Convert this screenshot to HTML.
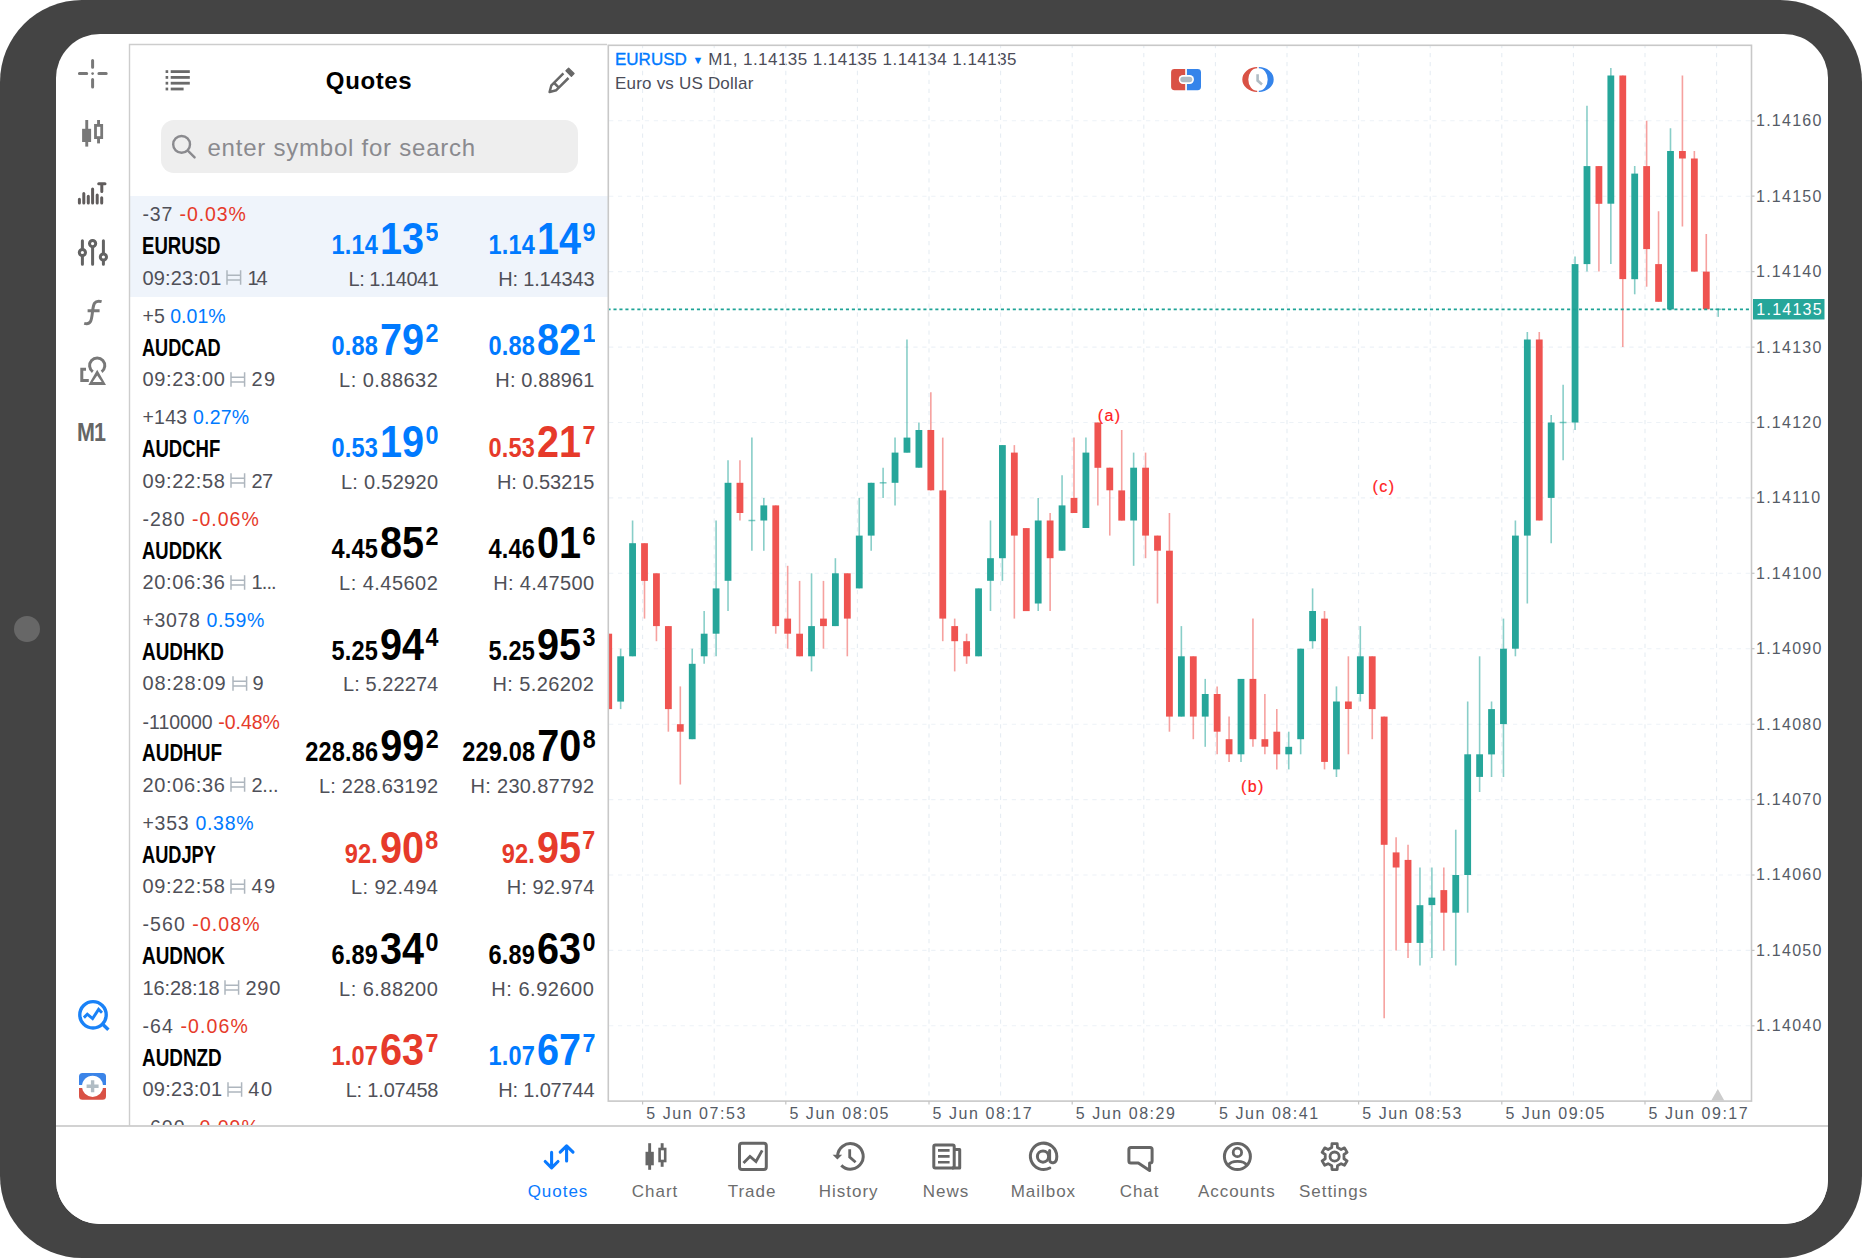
<!DOCTYPE html>
<html lang="en"><head><meta charset="utf-8"><title>Quotes</title>
<style>
html,body{margin:0;padding:0;background:#fff;}
body{width:1862px;height:1258px;position:relative;overflow:hidden;font-family:"Liberation Sans",sans-serif;}
.frame{position:absolute;left:0;top:0;width:1862px;height:1258px;background:#444;border-radius:82px;}
.cam{position:absolute;left:14px;top:616px;width:26px;height:26px;border-radius:50%;background:#676767;}
.screen{position:absolute;left:56px;top:34px;width:1772px;height:1190px;background:#fff;border-radius:44px;overflow:hidden;}
.abs{position:absolute;}
svg.ov{position:absolute;left:-56px;top:-34px;width:1862px;height:1258px;pointer-events:none;}
.ax{font:16px "Liberation Sans",sans-serif;fill:#555b66;letter-spacing:1.25px;}
.tx{font:16px "Liberation Sans",sans-serif;fill:#555b66;letter-spacing:1.55px;}
.wv{font:16px "Liberation Sans",sans-serif;fill:#ff1c1c;letter-spacing:1.4px;stroke:#ff1c1c;stroke-width:0.2px;}
.panel{position:absolute;left:74px;top:11px;width:478px;height:1080px;overflow:hidden;}
.title{position:absolute;left:0;width:478px;top:21px;text-align:center;font-weight:bold;font-size:24px;line-height:30px;color:#000;letter-spacing:0.6px;}
.search{position:absolute;left:30.5px;top:75.4px;width:417px;height:53px;border-radius:13px;background:#eeeeee;}
.search span{position:absolute;left:47px;top:12.2px;font-size:24px;line-height:30px;color:#8a8a8e;letter-spacing:0.77px;white-space:nowrap;}
.row{position:absolute;left:0;width:478px;height:101.4px;}
.row.sel{background:#eff4fb;}
.l1{position:absolute;left:12.5px;top:7.8px;font-size:19.5px;line-height:22px;color:#4f5058;white-space:nowrap;letter-spacing:1.0px;}
.cr{color:#e63a2a;} .cb{color:#007aff;} .ck{color:#000;}
.sym{position:absolute;left:11.5px;top:35.5px;font-size:23.5px;line-height:30px;font-weight:bold;color:#000;transform:scaleX(0.785);transform-origin:0 50%;white-space:nowrap;}
.l3{position:absolute;left:12.5px;top:70px;font-size:20px;line-height:24px;color:#4f5058;white-space:nowrap;letter-spacing:0.45px;}
.spi{display:inline-block;vertical-align:-0.5px;margin:0 5px 0 5px;}
.pr{position:absolute;top:18.4px;height:50px;white-space:nowrap;font-weight:bold;transform:scaleX(0.88);transform-origin:100% 50%;display:flex;align-items:baseline;}
.pr.bid{right:170px;} .pr.ask{right:13px;}
.ps{font-size:26.8px;line-height:50px;letter-spacing:0.2px;}
.pb{font-size:45px;line-height:50px;margin-left:2.2px;}
.pp{font-size:26.5px;line-height:20px;align-self:flex-start;margin-top:7.6px;margin-left:1.5px;letter-spacing:-0.5px;}
.lo,.hi{position:absolute;top:71.1px;font-size:20px;line-height:24px;color:#4f5058;white-space:nowrap;letter-spacing:0px;}
.lo{right:169.7px;} .hi{right:13.6px;}
.hdr{position:absolute;left:559px;top:15px;font-size:17px;line-height:22.5px;color:#4b4c58;white-space:nowrap;}
.hdr .s{color:#007aff;-webkit-text-stroke:0.35px #007aff;}
.tabbar{position:absolute;left:0;top:1091px;width:1772px;height:99px;border-top:2px solid #d2d2d2;background:#fff;}
.tab{position:absolute;top:54.5px;width:120px;text-align:center;font-size:17px;line-height:20px;color:#6d6d6d;letter-spacing:0.98px;}
.tab.on{color:#0a7aff;}
.m1{position:absolute;left:20.5px;top:383.2px;font-size:25px;line-height:30px;font-weight:bold;color:#666;letter-spacing:-1.2px;transform:scaleX(0.86);transform-origin:0 50%;}
</style></head>
<body>
<div class="frame"></div><div class="cam"></div>
<div class="screen">
<div class="panel">
<div class="title">Quotes</div>
<div class="search"><span>enter symbol for search</span></div>
<div class="row sel" style="top:150.7px">
<div class="l1" id="r0l1" style="letter-spacing:0.87px"><span class="chg">-37</span> <span class="cr">-0.03%</span></div>
<div class="sym" id="r0sym" style="transform:scaleX(0.7911)">EURUSD</div>
<div class="l3"><span class="tm" id="r0tm" style="letter-spacing:0.13px">09:23:01</span><svg class="spi" width="16" height="15" viewBox="0 0 16 15"><path d="M1 0.3V14.7M14.6 0.3V14.7M1 5.2H14.6M1 9.9H14.6" stroke="#aeb6be" stroke-width="1.5" fill="none"/></svg><span class="spr" id="r0spr" style="letter-spacing:-1.92px">14</span></div>
<div class="pr bid cb"><span class="ps">1.14</span><span class="pb">13</span><span class="pp">5</span></div><div class="pr ask cb"><span class="ps">1.14</span><span class="pb">14</span><span class="pp">9</span></div>
<div class="lo" id="r0lo" style="letter-spacing:-0.48px">L: 1.14041</div><div class="hi" id="r0hi" style="letter-spacing:-0.16px">H: 1.14343</div>
</div>
<div class="row" style="top:252.1px">
<div class="l1" id="r1l1" style="letter-spacing:0.03px"><span class="chg">+5</span> <span class="cb">0.01%</span></div>
<div class="sym" id="r1sym" style="transform:scaleX(0.7732)">AUDCAD</div>
<div class="l3"><span class="tm" id="r1tm" style="letter-spacing:0.63px">09:23:00</span><svg class="spi" width="16" height="15" viewBox="0 0 16 15"><path d="M1 0.3V14.7M14.6 0.3V14.7M1 5.2H14.6M1 9.9H14.6" stroke="#aeb6be" stroke-width="1.5" fill="none"/></svg><span class="spr" id="r1spr" style="letter-spacing:1.44px">29</span></div>
<div class="pr bid cb"><span class="ps">0.88</span><span class="pb">79</span><span class="pp">2</span></div><div class="pr ask cb"><span class="ps">0.88</span><span class="pb">82</span><span class="pp">1</span></div>
<div class="lo" id="r1lo" style="letter-spacing:0.47px">L: 0.88632</div><div class="hi" id="r1hi" style="letter-spacing:0.12px">H: 0.88961</div>
</div>
<div class="row" style="top:353.6px">
<div class="l1" id="r2l1" style="letter-spacing:0.23px"><span class="chg">+143</span> <span class="cb">0.27%</span></div>
<div class="sym" id="r2sym" style="transform:scaleX(0.7893)">AUDCHF</div>
<div class="l3"><span class="tm" id="r2tm" style="letter-spacing:0.63px">09:22:58</span><svg class="spi" width="16" height="15" viewBox="0 0 16 15"><path d="M1 0.3V14.7M14.6 0.3V14.7M1 5.2H14.6M1 9.9H14.6" stroke="#aeb6be" stroke-width="1.5" fill="none"/></svg><span class="spr" id="r2spr" style="letter-spacing:-0.48px">27</span></div>
<div class="pr bid cb"><span class="ps">0.53</span><span class="pb">19</span><span class="pp">0</span></div><div class="pr ask cr"><span class="ps">0.53</span><span class="pb">21</span><span class="pp">7</span></div>
<div class="lo" id="r2lo" style="letter-spacing:0.29px">L: 0.52920</div><div class="hi" id="r2hi" style="letter-spacing:-0.04px">H: 0.53215</div>
</div>
<div class="row" style="top:455.0px">
<div class="l1" id="r3l1" style="letter-spacing:1.00px"><span class="chg">-280</span> <span class="cr">-0.06%</span></div>
<div class="sym" id="r3sym" style="transform:scaleX(0.7869)">AUDDKK</div>
<div class="l3"><span class="tm" id="r3tm" style="letter-spacing:0.63px">20:06:36</span><svg class="spi" width="16" height="15" viewBox="0 0 16 15"><path d="M1 0.3V14.7M14.6 0.3V14.7M1 5.2H14.6M1 9.9H14.6" stroke="#aeb6be" stroke-width="1.5" fill="none"/></svg><span class="spr" id="r3spr" style="letter-spacing:-0.85px">1...</span></div>
<div class="pr bid ck"><span class="ps">4.45</span><span class="pb">85</span><span class="pp">2</span></div><div class="pr ask ck"><span class="ps">4.46</span><span class="pb">01</span><span class="pp">6</span></div>
<div class="lo" id="r3lo" style="letter-spacing:0.47px">L: 4.45602</div><div class="hi" id="r3hi" style="letter-spacing:0.34px">H: 4.47500</div>
</div>
<div class="row" style="top:556.4px">
<div class="l1" id="r4l1" style="letter-spacing:0.63px"><span class="chg">+3078</span> <span class="cb">0.59%</span></div>
<div class="sym" id="r4sym" style="transform:scaleX(0.8053)">AUDHKD</div>
<div class="l3"><span class="tm" id="r4tm" style="letter-spacing:0.77px">08:28:09</span><svg class="spi" width="16" height="15" viewBox="0 0 16 15"><path d="M1 0.3V14.7M14.6 0.3V14.7M1 5.2H14.6M1 9.9H14.6" stroke="#aeb6be" stroke-width="1.5" fill="none"/></svg><span class="spr" id="r4spr" style="letter-spacing:-0.40px">9</span></div>
<div class="pr bid ck"><span class="ps">5.25</span><span class="pb">94</span><span class="pp">4</span></div><div class="pr ask ck"><span class="ps">5.25</span><span class="pb">95</span><span class="pp">3</span></div>
<div class="lo" id="r4lo" style="letter-spacing:0.07px">L: 5.22274</div><div class="hi" id="r4hi" style="letter-spacing:0.41px">H: 5.26202</div>
</div>
<div class="row" style="top:657.9px">
<div class="l1" id="r5l1" style="letter-spacing:0.01px"><span class="chg">-110000</span> <span class="cr">-0.48%</span></div>
<div class="sym" id="r5sym" style="transform:scaleX(0.8076)">AUDHUF</div>
<div class="l3"><span class="tm" id="r5tm" style="letter-spacing:0.63px">20:06:36</span><svg class="spi" width="16" height="15" viewBox="0 0 16 15"><path d="M1 0.3V14.7M14.6 0.3V14.7M1 5.2H14.6M1 9.9H14.6" stroke="#aeb6be" stroke-width="1.5" fill="none"/></svg><span class="spr" id="r5spr" style="letter-spacing:-0.21px">2...</span></div>
<div class="pr bid ck"><span class="ps">228.86</span><span class="pb">99</span><span class="pp">2</span></div><div class="pr ask ck"><span class="ps">229.08</span><span class="pb">70</span><span class="pp">8</span></div>
<div class="lo" id="r5lo" style="letter-spacing:0.21px">L: 228.63192</div><div class="hi" id="r5hi" style="letter-spacing:0.32px">H: 230.87792</div>
</div>
<div class="row" style="top:759.3px">
<div class="l1" id="r6l1" style="letter-spacing:0.71px"><span class="chg">+353</span> <span class="cb">0.38%</span></div>
<div class="sym" id="r6sym" style="transform:scaleX(0.7749)">AUDJPY</div>
<div class="l3"><span class="tm" id="r6tm" style="letter-spacing:0.63px">09:22:58</span><svg class="spi" width="16" height="15" viewBox="0 0 16 15"><path d="M1 0.3V14.7M14.6 0.3V14.7M1 5.2H14.6M1 9.9H14.6" stroke="#aeb6be" stroke-width="1.5" fill="none"/></svg><span class="spr" id="r6spr" style="letter-spacing:1.44px">49</span></div>
<div class="pr bid cr"><span class="ps">92.</span><span class="pb">90</span><span class="pp">8</span></div><div class="pr ask cr"><span class="ps">92.</span><span class="pb">95</span><span class="pp">7</span></div>
<div class="lo" id="r6lo" style="letter-spacing:0.44px">L: 92.494</div><div class="hi" id="r6hi" style="letter-spacing:0.10px">H: 92.974</div>
</div>
<div class="row" style="top:860.7px">
<div class="l1" id="r7l1" style="letter-spacing:1.08px"><span class="chg">-560</span> <span class="cr">-0.08%</span></div>
<div class="sym" id="r7sym" style="transform:scaleX(0.8044)">AUDNOK</div>
<div class="l3"><span class="tm" id="r7tm" style="letter-spacing:-0.12px">16:28:18</span><svg class="spi" width="16" height="15" viewBox="0 0 16 15"><path d="M1 0.3V14.7M14.6 0.3V14.7M1 5.2H14.6M1 9.9H14.6" stroke="#aeb6be" stroke-width="1.5" fill="none"/></svg><span class="spr" id="r7spr" style="letter-spacing:0.80px">290</span></div>
<div class="pr bid ck"><span class="ps">6.89</span><span class="pb">34</span><span class="pp">0</span></div><div class="pr ask ck"><span class="ps">6.89</span><span class="pb">63</span><span class="pp">0</span></div>
<div class="lo" id="r7lo" style="letter-spacing:0.47px">L: 6.88200</div><div class="hi" id="r7hi" style="letter-spacing:0.53px">H: 6.92600</div>
</div>
<div class="row" style="top:962.1px">
<div class="l1" id="r8l1" style="letter-spacing:1.10px"><span class="chg">-64</span> <span class="cr">-0.06%</span></div>
<div class="sym" id="r8sym" style="transform:scaleX(0.8033)">AUDNZD</div>
<div class="l3"><span class="tm" id="r8tm" style="letter-spacing:0.25px">09:23:01</span><svg class="spi" width="16" height="15" viewBox="0 0 16 15"><path d="M1 0.3V14.7M14.6 0.3V14.7M1 5.2H14.6M1 9.9H14.6" stroke="#aeb6be" stroke-width="1.5" fill="none"/></svg><span class="spr" id="r8spr" style="letter-spacing:1.44px">40</span></div>
<div class="pr bid cr"><span class="ps">1.07</span><span class="pb">63</span><span class="pp">7</span></div><div class="pr ask cb"><span class="ps">1.07</span><span class="pb">67</span><span class="pp">7</span></div>
<div class="lo" id="r8lo" style="letter-spacing:-0.19px">L: 1.07458</div><div class="hi" id="r8hi" style="letter-spacing:-0.18px">H: 1.07744</div>
</div>
<div class="row" style="top:1063.6px">
<div class="l1" id="r9l1" style="letter-spacing:1.00px"><span class="chg">-600</span> <span class="cr">-0.09%</span></div>
<div class="sym" id="r9sym" style="transform:scaleX(0.7850)">AUDSGD</div>
<div class="l3"><span class="tm" id="r9tm" style="letter-spacing:0.45px">09:23:01</span><svg class="spi" width="16" height="15" viewBox="0 0 16 15"><path d="M1 0.3V14.7M14.6 0.3V14.7M1 5.2H14.6M1 9.9H14.6" stroke="#aeb6be" stroke-width="1.5" fill="none"/></svg><span class="spr" id="r9spr" style="letter-spacing:-0.40px">35</span></div>
<div class="pr bid cb"><span class="ps">0.83</span><span class="pb">41</span><span class="pp">2</span></div><div class="pr ask cb"><span class="ps">0.83</span><span class="pb">44</span><span class="pp">7</span></div>
<div class="lo" id="r9lo" style="letter-spacing:-0.30px">L: 0.83401</div><div class="hi" id="r9hi" style="letter-spacing:0.00px">H: 0.83672</div>
</div>
</div>
<div class="m1">M1</div>
<div class="hdr"><span class="s">EURUSD</span> <span style="color:#007aff;font-size:11px;position:relative;top:-1px;margin:0 0px 0 1px">&#9660;</span> <span style="letter-spacing:0.45px">M1, 1.14135 1.14135 1.14134 1.14135</span><br><span style="letter-spacing:0.2px">Euro vs US Dollar</span></div>
<div class="tabbar"><div class="tab on" style="left:442.0px">Quotes</div>
<div class="tab" style="left:539.0px">Chart</div>
<div class="tab" style="left:636.0px">Trade</div>
<div class="tab" style="left:732.7px">History</div>
<div class="tab" style="left:830.0px">News</div>
<div class="tab" style="left:927.4px">Mailbox</div>
<div class="tab" style="left:1023.6px">Chat</div>
<div class="tab" style="left:1120.8px">Accounts</div>
<div class="tab" style="left:1217.6px">Settings</div></div>
<svg class="ov" viewBox="0 0 1862 1258">
<defs><clipPath id="cc"><rect x="609" y="46" width="1142" height="1054.5"/></clipPath></defs>
<g clip-path="url(#cc)">
<line x1="609" x2="1751" y1="120.8" y2="120.8" stroke="#edf2f7" stroke-width="1.1" stroke-dasharray="4.3 4.65"/>
<line x1="609" x2="1751" y1="196.2" y2="196.2" stroke="#edf2f7" stroke-width="1.1" stroke-dasharray="4.3 4.65"/>
<line x1="609" x2="1751" y1="271.6" y2="271.6" stroke="#edf2f7" stroke-width="1.1" stroke-dasharray="4.3 4.65"/>
<line x1="609" x2="1751" y1="347.1" y2="347.1" stroke="#edf2f7" stroke-width="1.1" stroke-dasharray="4.3 4.65"/>
<line x1="609" x2="1751" y1="422.5" y2="422.5" stroke="#edf2f7" stroke-width="1.1" stroke-dasharray="4.3 4.65"/>
<line x1="609" x2="1751" y1="497.9" y2="497.9" stroke="#edf2f7" stroke-width="1.1" stroke-dasharray="4.3 4.65"/>
<line x1="609" x2="1751" y1="573.3" y2="573.3" stroke="#edf2f7" stroke-width="1.1" stroke-dasharray="4.3 4.65"/>
<line x1="609" x2="1751" y1="648.7" y2="648.7" stroke="#edf2f7" stroke-width="1.1" stroke-dasharray="4.3 4.65"/>
<line x1="609" x2="1751" y1="724.2" y2="724.2" stroke="#edf2f7" stroke-width="1.1" stroke-dasharray="4.3 4.65"/>
<line x1="609" x2="1751" y1="799.6" y2="799.6" stroke="#edf2f7" stroke-width="1.1" stroke-dasharray="4.3 4.65"/>
<line x1="609" x2="1751" y1="875.0" y2="875.0" stroke="#edf2f7" stroke-width="1.1" stroke-dasharray="4.3 4.65"/>
<line x1="609" x2="1751" y1="950.4" y2="950.4" stroke="#edf2f7" stroke-width="1.1" stroke-dasharray="4.3 4.65"/>
<line x1="609" x2="1751" y1="1025.8" y2="1025.8" stroke="#edf2f7" stroke-width="1.1" stroke-dasharray="4.3 4.65"/>
<line x1="642.6" x2="642.6" y1="46" y2="1100" stroke="#e6edf3" stroke-width="1.1" stroke-dasharray="4.3 4.65" stroke-dashoffset="2"/>
<line x1="714.2" x2="714.2" y1="46" y2="1100" stroke="#e6edf3" stroke-width="1.1" stroke-dasharray="4.3 4.65" stroke-dashoffset="2"/>
<line x1="785.8" x2="785.8" y1="46" y2="1100" stroke="#e6edf3" stroke-width="1.1" stroke-dasharray="4.3 4.65" stroke-dashoffset="2"/>
<line x1="857.4" x2="857.4" y1="46" y2="1100" stroke="#e6edf3" stroke-width="1.1" stroke-dasharray="4.3 4.65" stroke-dashoffset="2"/>
<line x1="929.0" x2="929.0" y1="46" y2="1100" stroke="#e6edf3" stroke-width="1.1" stroke-dasharray="4.3 4.65" stroke-dashoffset="2"/>
<line x1="1000.6" x2="1000.6" y1="46" y2="1100" stroke="#e6edf3" stroke-width="1.1" stroke-dasharray="4.3 4.65" stroke-dashoffset="2"/>
<line x1="1072.2" x2="1072.2" y1="46" y2="1100" stroke="#e6edf3" stroke-width="1.1" stroke-dasharray="4.3 4.65" stroke-dashoffset="2"/>
<line x1="1143.8" x2="1143.8" y1="46" y2="1100" stroke="#e6edf3" stroke-width="1.1" stroke-dasharray="4.3 4.65" stroke-dashoffset="2"/>
<line x1="1215.4" x2="1215.4" y1="46" y2="1100" stroke="#e6edf3" stroke-width="1.1" stroke-dasharray="4.3 4.65" stroke-dashoffset="2"/>
<line x1="1287.0" x2="1287.0" y1="46" y2="1100" stroke="#e6edf3" stroke-width="1.1" stroke-dasharray="4.3 4.65" stroke-dashoffset="2"/>
<line x1="1358.6" x2="1358.6" y1="46" y2="1100" stroke="#e6edf3" stroke-width="1.1" stroke-dasharray="4.3 4.65" stroke-dashoffset="2"/>
<line x1="1430.2" x2="1430.2" y1="46" y2="1100" stroke="#e6edf3" stroke-width="1.1" stroke-dasharray="4.3 4.65" stroke-dashoffset="2"/>
<line x1="1501.8" x2="1501.8" y1="46" y2="1100" stroke="#e6edf3" stroke-width="1.1" stroke-dasharray="4.3 4.65" stroke-dashoffset="2"/>
<line x1="1573.4" x2="1573.4" y1="46" y2="1100" stroke="#e6edf3" stroke-width="1.1" stroke-dasharray="4.3 4.65" stroke-dashoffset="2"/>
<line x1="1645.0" x2="1645.0" y1="46" y2="1100" stroke="#e6edf3" stroke-width="1.1" stroke-dasharray="4.3 4.65" stroke-dashoffset="2"/>
<line x1="1716.6" x2="1716.6" y1="46" y2="1100" stroke="#e6edf3" stroke-width="1.1" stroke-dasharray="4.3 4.65" stroke-dashoffset="2"/>
<line x1="608.72" x2="608.72" y1="633.7" y2="709.1" stroke="#ef5350" stroke-width="1.6" stroke-opacity="0.55"/>
<rect x="605.32" y="633.7" width="6.8" height="75.4" fill="#ef5350"/>
<line x1="620.65" x2="620.65" y1="648.7" y2="709.1" stroke="#26a69a" stroke-width="1.6" stroke-opacity="0.55"/>
<rect x="617.25" y="656.3" width="6.8" height="45.3" fill="#26a69a"/>
<line x1="632.58" x2="632.58" y1="520.5" y2="656.3" stroke="#26a69a" stroke-width="1.6" stroke-opacity="0.55"/>
<rect x="629.18" y="543.2" width="6.8" height="113.1" fill="#26a69a"/>
<line x1="644.51" x2="644.51" y1="543.2" y2="618.6" stroke="#ef5350" stroke-width="1.6" stroke-opacity="0.55"/>
<rect x="641.11" y="543.2" width="6.8" height="37.7" fill="#ef5350"/>
<line x1="656.44" x2="656.44" y1="573.3" y2="641.2" stroke="#ef5350" stroke-width="1.6" stroke-opacity="0.55"/>
<rect x="653.04" y="573.3" width="6.8" height="52.8" fill="#ef5350"/>
<line x1="668.37" x2="668.37" y1="626.1" y2="731.7" stroke="#ef5350" stroke-width="1.6" stroke-opacity="0.55"/>
<rect x="664.97" y="626.1" width="6.8" height="83.0" fill="#ef5350"/>
<line x1="680.30" x2="680.30" y1="686.4" y2="784.5" stroke="#ef5350" stroke-width="1.6" stroke-opacity="0.55"/>
<rect x="676.90" y="724.2" width="6.8" height="7.5" fill="#ef5350"/>
<line x1="692.23" x2="692.23" y1="648.7" y2="739.2" stroke="#26a69a" stroke-width="1.6" stroke-opacity="0.55"/>
<rect x="688.83" y="663.8" width="6.8" height="75.4" fill="#26a69a"/>
<line x1="704.16" x2="704.16" y1="611.0" y2="663.8" stroke="#26a69a" stroke-width="1.6" stroke-opacity="0.55"/>
<rect x="700.76" y="633.7" width="6.8" height="22.6" fill="#26a69a"/>
<line x1="716.09" x2="716.09" y1="520.5" y2="656.3" stroke="#26a69a" stroke-width="1.6" stroke-opacity="0.55"/>
<rect x="712.69" y="588.4" width="6.8" height="45.3" fill="#26a69a"/>
<line x1="728.02" x2="728.02" y1="460.2" y2="611.0" stroke="#26a69a" stroke-width="1.6" stroke-opacity="0.55"/>
<rect x="724.62" y="482.8" width="6.8" height="98.0" fill="#26a69a"/>
<line x1="739.95" x2="739.95" y1="460.2" y2="520.5" stroke="#ef5350" stroke-width="1.6" stroke-opacity="0.55"/>
<rect x="736.55" y="482.8" width="6.8" height="30.2" fill="#ef5350"/>
<line x1="751.88" x2="751.88" y1="437.6" y2="550.7" stroke="#26a69a" stroke-width="1.6" stroke-opacity="0.55"/>
<line x1="748.48" x2="755.28" y1="520.5" y2="520.5" stroke="#26a69a" stroke-width="1.5" stroke-opacity="0.6"/>
<line x1="763.81" x2="763.81" y1="497.9" y2="550.7" stroke="#26a69a" stroke-width="1.6" stroke-opacity="0.55"/>
<rect x="760.41" y="505.4" width="6.8" height="15.1" fill="#26a69a"/>
<line x1="775.74" x2="775.74" y1="505.4" y2="633.7" stroke="#ef5350" stroke-width="1.6" stroke-opacity="0.55"/>
<rect x="772.34" y="505.4" width="6.8" height="120.7" fill="#ef5350"/>
<line x1="787.67" x2="787.67" y1="565.8" y2="648.7" stroke="#ef5350" stroke-width="1.6" stroke-opacity="0.55"/>
<rect x="784.27" y="618.6" width="6.8" height="15.1" fill="#ef5350"/>
<line x1="799.60" x2="799.60" y1="580.9" y2="656.3" stroke="#ef5350" stroke-width="1.6" stroke-opacity="0.55"/>
<rect x="796.20" y="633.7" width="6.8" height="22.6" fill="#ef5350"/>
<line x1="811.53" x2="811.53" y1="573.3" y2="671.4" stroke="#26a69a" stroke-width="1.6" stroke-opacity="0.55"/>
<rect x="808.13" y="626.1" width="6.8" height="30.2" fill="#26a69a"/>
<line x1="823.46" x2="823.46" y1="580.9" y2="648.7" stroke="#ef5350" stroke-width="1.6" stroke-opacity="0.55"/>
<rect x="820.06" y="618.6" width="6.8" height="7.5" fill="#ef5350"/>
<line x1="835.39" x2="835.39" y1="558.2" y2="626.1" stroke="#26a69a" stroke-width="1.6" stroke-opacity="0.55"/>
<rect x="831.99" y="573.3" width="6.8" height="52.8" fill="#26a69a"/>
<line x1="847.32" x2="847.32" y1="573.3" y2="656.3" stroke="#ef5350" stroke-width="1.6" stroke-opacity="0.55"/>
<rect x="843.92" y="573.3" width="6.8" height="45.3" fill="#ef5350"/>
<line x1="859.25" x2="859.25" y1="497.9" y2="588.4" stroke="#26a69a" stroke-width="1.6" stroke-opacity="0.55"/>
<rect x="855.85" y="535.6" width="6.8" height="52.8" fill="#26a69a"/>
<line x1="871.18" x2="871.18" y1="482.8" y2="550.7" stroke="#26a69a" stroke-width="1.6" stroke-opacity="0.55"/>
<rect x="867.78" y="482.8" width="6.8" height="52.8" fill="#26a69a"/>
<line x1="883.11" x2="883.11" y1="467.7" y2="497.9" stroke="#26a69a" stroke-width="1.6" stroke-opacity="0.55"/>
<line x1="879.71" x2="886.51" y1="482.8" y2="482.8" stroke="#26a69a" stroke-width="1.5" stroke-opacity="0.6"/>
<line x1="895.04" x2="895.04" y1="437.6" y2="505.4" stroke="#26a69a" stroke-width="1.6" stroke-opacity="0.55"/>
<rect x="891.64" y="452.6" width="6.8" height="30.2" fill="#26a69a"/>
<line x1="906.97" x2="906.97" y1="339.5" y2="452.6" stroke="#26a69a" stroke-width="1.6" stroke-opacity="0.55"/>
<rect x="903.57" y="437.6" width="6.8" height="15.1" fill="#26a69a"/>
<line x1="918.90" x2="918.90" y1="422.5" y2="467.7" stroke="#26a69a" stroke-width="1.6" stroke-opacity="0.55"/>
<rect x="915.50" y="430.0" width="6.8" height="37.7" fill="#26a69a"/>
<line x1="930.83" x2="930.83" y1="392.3" y2="490.4" stroke="#ef5350" stroke-width="1.6" stroke-opacity="0.55"/>
<rect x="927.43" y="430.0" width="6.8" height="60.3" fill="#ef5350"/>
<line x1="942.76" x2="942.76" y1="437.6" y2="641.2" stroke="#ef5350" stroke-width="1.6" stroke-opacity="0.55"/>
<rect x="939.36" y="490.4" width="6.8" height="128.2" fill="#ef5350"/>
<line x1="954.69" x2="954.69" y1="618.6" y2="671.4" stroke="#ef5350" stroke-width="1.6" stroke-opacity="0.55"/>
<rect x="951.29" y="626.1" width="6.8" height="15.1" fill="#ef5350"/>
<line x1="966.62" x2="966.62" y1="633.7" y2="663.8" stroke="#ef5350" stroke-width="1.6" stroke-opacity="0.55"/>
<rect x="963.22" y="641.2" width="6.8" height="15.1" fill="#ef5350"/>
<line x1="978.55" x2="978.55" y1="588.4" y2="656.3" stroke="#26a69a" stroke-width="1.6" stroke-opacity="0.55"/>
<rect x="975.15" y="588.4" width="6.8" height="67.9" fill="#26a69a"/>
<line x1="990.48" x2="990.48" y1="520.5" y2="611.0" stroke="#26a69a" stroke-width="1.6" stroke-opacity="0.55"/>
<rect x="987.08" y="558.2" width="6.8" height="22.6" fill="#26a69a"/>
<line x1="1002.41" x2="1002.41" y1="445.1" y2="580.9" stroke="#26a69a" stroke-width="1.6" stroke-opacity="0.55"/>
<rect x="999.01" y="445.1" width="6.8" height="113.1" fill="#26a69a"/>
<line x1="1014.34" x2="1014.34" y1="445.1" y2="618.6" stroke="#ef5350" stroke-width="1.6" stroke-opacity="0.55"/>
<rect x="1010.94" y="452.6" width="6.8" height="83.0" fill="#ef5350"/>
<line x1="1026.27" x2="1026.27" y1="528.1" y2="611.0" stroke="#ef5350" stroke-width="1.6" stroke-opacity="0.55"/>
<rect x="1022.87" y="528.1" width="6.8" height="83.0" fill="#ef5350"/>
<line x1="1038.20" x2="1038.20" y1="497.9" y2="611.0" stroke="#26a69a" stroke-width="1.6" stroke-opacity="0.55"/>
<rect x="1034.80" y="520.5" width="6.8" height="83.0" fill="#26a69a"/>
<line x1="1050.13" x2="1050.13" y1="513.0" y2="611.0" stroke="#ef5350" stroke-width="1.6" stroke-opacity="0.55"/>
<rect x="1046.73" y="520.5" width="6.8" height="37.7" fill="#ef5350"/>
<line x1="1062.06" x2="1062.06" y1="475.3" y2="550.7" stroke="#26a69a" stroke-width="1.6" stroke-opacity="0.55"/>
<rect x="1058.66" y="505.4" width="6.8" height="45.3" fill="#26a69a"/>
<line x1="1073.99" x2="1073.99" y1="437.6" y2="513.0" stroke="#ef5350" stroke-width="1.6" stroke-opacity="0.55"/>
<rect x="1070.59" y="497.9" width="6.8" height="15.1" fill="#ef5350"/>
<line x1="1085.92" x2="1085.92" y1="437.6" y2="528.1" stroke="#26a69a" stroke-width="1.6" stroke-opacity="0.55"/>
<rect x="1082.52" y="452.6" width="6.8" height="75.4" fill="#26a69a"/>
<line x1="1097.85" x2="1097.85" y1="422.5" y2="505.4" stroke="#ef5350" stroke-width="1.6" stroke-opacity="0.55"/>
<rect x="1094.45" y="422.5" width="6.8" height="45.3" fill="#ef5350"/>
<line x1="1109.78" x2="1109.78" y1="467.7" y2="535.6" stroke="#ef5350" stroke-width="1.6" stroke-opacity="0.55"/>
<rect x="1106.38" y="467.7" width="6.8" height="22.6" fill="#ef5350"/>
<line x1="1121.71" x2="1121.71" y1="430.0" y2="520.5" stroke="#ef5350" stroke-width="1.6" stroke-opacity="0.55"/>
<rect x="1118.31" y="490.4" width="6.8" height="30.2" fill="#ef5350"/>
<line x1="1133.64" x2="1133.64" y1="452.6" y2="565.8" stroke="#26a69a" stroke-width="1.6" stroke-opacity="0.55"/>
<rect x="1130.24" y="467.7" width="6.8" height="52.8" fill="#26a69a"/>
<line x1="1145.57" x2="1145.57" y1="452.6" y2="558.2" stroke="#ef5350" stroke-width="1.6" stroke-opacity="0.55"/>
<rect x="1142.17" y="467.7" width="6.8" height="67.9" fill="#ef5350"/>
<line x1="1157.50" x2="1157.50" y1="535.6" y2="603.5" stroke="#ef5350" stroke-width="1.6" stroke-opacity="0.55"/>
<rect x="1154.10" y="535.6" width="6.8" height="15.1" fill="#ef5350"/>
<line x1="1169.43" x2="1169.43" y1="513.0" y2="731.7" stroke="#ef5350" stroke-width="1.6" stroke-opacity="0.55"/>
<rect x="1166.03" y="550.7" width="6.8" height="165.9" fill="#ef5350"/>
<line x1="1181.36" x2="1181.36" y1="626.1" y2="716.6" stroke="#26a69a" stroke-width="1.6" stroke-opacity="0.55"/>
<rect x="1177.96" y="656.3" width="6.8" height="60.3" fill="#26a69a"/>
<line x1="1193.29" x2="1193.29" y1="656.3" y2="739.2" stroke="#ef5350" stroke-width="1.6" stroke-opacity="0.55"/>
<rect x="1189.89" y="656.3" width="6.8" height="60.3" fill="#ef5350"/>
<line x1="1205.22" x2="1205.22" y1="678.9" y2="746.8" stroke="#26a69a" stroke-width="1.6" stroke-opacity="0.55"/>
<rect x="1201.82" y="694.0" width="6.8" height="22.6" fill="#26a69a"/>
<line x1="1217.15" x2="1217.15" y1="686.4" y2="754.3" stroke="#ef5350" stroke-width="1.6" stroke-opacity="0.55"/>
<rect x="1213.75" y="694.0" width="6.8" height="37.7" fill="#ef5350"/>
<line x1="1229.08" x2="1229.08" y1="716.6" y2="761.9" stroke="#ef5350" stroke-width="1.6" stroke-opacity="0.55"/>
<rect x="1225.68" y="739.2" width="6.8" height="15.1" fill="#ef5350"/>
<line x1="1241.01" x2="1241.01" y1="678.9" y2="761.9" stroke="#26a69a" stroke-width="1.6" stroke-opacity="0.55"/>
<rect x="1237.61" y="678.9" width="6.8" height="75.4" fill="#26a69a"/>
<line x1="1252.94" x2="1252.94" y1="618.6" y2="746.8" stroke="#ef5350" stroke-width="1.6" stroke-opacity="0.55"/>
<rect x="1249.54" y="678.9" width="6.8" height="60.3" fill="#ef5350"/>
<line x1="1264.87" x2="1264.87" y1="694.0" y2="754.3" stroke="#ef5350" stroke-width="1.6" stroke-opacity="0.55"/>
<rect x="1261.47" y="739.2" width="6.8" height="7.5" fill="#ef5350"/>
<line x1="1276.80" x2="1276.80" y1="709.1" y2="769.4" stroke="#ef5350" stroke-width="1.6" stroke-opacity="0.55"/>
<rect x="1273.40" y="731.7" width="6.8" height="22.6" fill="#ef5350"/>
<line x1="1288.73" x2="1288.73" y1="731.7" y2="769.4" stroke="#26a69a" stroke-width="1.6" stroke-opacity="0.55"/>
<rect x="1285.33" y="746.8" width="6.8" height="7.5" fill="#26a69a"/>
<line x1="1300.66" x2="1300.66" y1="648.7" y2="754.3" stroke="#26a69a" stroke-width="1.6" stroke-opacity="0.55"/>
<rect x="1297.26" y="648.7" width="6.8" height="90.5" fill="#26a69a"/>
<line x1="1312.59" x2="1312.59" y1="588.4" y2="648.7" stroke="#26a69a" stroke-width="1.6" stroke-opacity="0.55"/>
<rect x="1309.19" y="611.0" width="6.8" height="30.2" fill="#26a69a"/>
<line x1="1324.52" x2="1324.52" y1="611.0" y2="769.4" stroke="#ef5350" stroke-width="1.6" stroke-opacity="0.55"/>
<rect x="1321.12" y="618.6" width="6.8" height="143.3" fill="#ef5350"/>
<line x1="1336.45" x2="1336.45" y1="686.4" y2="777.0" stroke="#26a69a" stroke-width="1.6" stroke-opacity="0.55"/>
<rect x="1333.05" y="701.5" width="6.8" height="67.9" fill="#26a69a"/>
<line x1="1348.38" x2="1348.38" y1="656.3" y2="754.3" stroke="#ef5350" stroke-width="1.6" stroke-opacity="0.55"/>
<rect x="1344.98" y="701.5" width="6.8" height="7.5" fill="#ef5350"/>
<line x1="1360.31" x2="1360.31" y1="626.1" y2="701.5" stroke="#26a69a" stroke-width="1.6" stroke-opacity="0.55"/>
<rect x="1356.91" y="656.3" width="6.8" height="37.7" fill="#26a69a"/>
<line x1="1372.24" x2="1372.24" y1="656.3" y2="739.2" stroke="#ef5350" stroke-width="1.6" stroke-opacity="0.55"/>
<rect x="1368.84" y="656.3" width="6.8" height="52.8" fill="#ef5350"/>
<line x1="1384.17" x2="1384.17" y1="716.6" y2="1018.3" stroke="#ef5350" stroke-width="1.6" stroke-opacity="0.55"/>
<rect x="1380.77" y="716.6" width="6.8" height="128.2" fill="#ef5350"/>
<line x1="1396.10" x2="1396.10" y1="837.3" y2="950.4" stroke="#ef5350" stroke-width="1.6" stroke-opacity="0.55"/>
<rect x="1392.70" y="852.4" width="6.8" height="15.1" fill="#ef5350"/>
<line x1="1408.03" x2="1408.03" y1="844.8" y2="958.0" stroke="#ef5350" stroke-width="1.6" stroke-opacity="0.55"/>
<rect x="1404.63" y="859.9" width="6.8" height="83.0" fill="#ef5350"/>
<line x1="1419.96" x2="1419.96" y1="867.5" y2="965.5" stroke="#26a69a" stroke-width="1.6" stroke-opacity="0.55"/>
<rect x="1416.56" y="905.2" width="6.8" height="37.7" fill="#26a69a"/>
<line x1="1431.89" x2="1431.89" y1="867.5" y2="958.0" stroke="#26a69a" stroke-width="1.6" stroke-opacity="0.55"/>
<rect x="1428.49" y="897.6" width="6.8" height="7.5" fill="#26a69a"/>
<line x1="1443.82" x2="1443.82" y1="867.5" y2="950.4" stroke="#ef5350" stroke-width="1.6" stroke-opacity="0.55"/>
<rect x="1440.42" y="890.1" width="6.8" height="22.6" fill="#ef5350"/>
<line x1="1455.75" x2="1455.75" y1="829.7" y2="965.5" stroke="#26a69a" stroke-width="1.6" stroke-opacity="0.55"/>
<rect x="1452.35" y="875.0" width="6.8" height="37.7" fill="#26a69a"/>
<line x1="1467.68" x2="1467.68" y1="701.5" y2="912.7" stroke="#26a69a" stroke-width="1.6" stroke-opacity="0.55"/>
<rect x="1464.28" y="754.3" width="6.8" height="120.7" fill="#26a69a"/>
<line x1="1479.61" x2="1479.61" y1="656.3" y2="792.0" stroke="#26a69a" stroke-width="1.6" stroke-opacity="0.55"/>
<rect x="1476.21" y="754.3" width="6.8" height="22.6" fill="#26a69a"/>
<line x1="1491.54" x2="1491.54" y1="701.5" y2="777.0" stroke="#26a69a" stroke-width="1.6" stroke-opacity="0.55"/>
<rect x="1488.14" y="709.1" width="6.8" height="45.3" fill="#26a69a"/>
<line x1="1503.47" x2="1503.47" y1="618.6" y2="777.0" stroke="#26a69a" stroke-width="1.6" stroke-opacity="0.55"/>
<rect x="1500.07" y="648.7" width="6.8" height="75.4" fill="#26a69a"/>
<line x1="1515.40" x2="1515.40" y1="520.5" y2="656.3" stroke="#26a69a" stroke-width="1.6" stroke-opacity="0.55"/>
<rect x="1512.00" y="535.6" width="6.8" height="113.1" fill="#26a69a"/>
<line x1="1527.33" x2="1527.33" y1="332.0" y2="603.5" stroke="#26a69a" stroke-width="1.6" stroke-opacity="0.55"/>
<rect x="1523.93" y="339.5" width="6.8" height="196.1" fill="#26a69a"/>
<line x1="1539.26" x2="1539.26" y1="332.0" y2="520.5" stroke="#ef5350" stroke-width="1.6" stroke-opacity="0.55"/>
<rect x="1535.86" y="339.5" width="6.8" height="181.0" fill="#ef5350"/>
<line x1="1551.19" x2="1551.19" y1="414.9" y2="543.2" stroke="#26a69a" stroke-width="1.6" stroke-opacity="0.55"/>
<rect x="1547.79" y="422.5" width="6.8" height="75.4" fill="#26a69a"/>
<line x1="1563.12" x2="1563.12" y1="384.8" y2="460.2" stroke="#26a69a" stroke-width="1.6" stroke-opacity="0.55"/>
<line x1="1559.72" x2="1566.52" y1="422.5" y2="422.5" stroke="#26a69a" stroke-width="1.5" stroke-opacity="0.6"/>
<line x1="1575.05" x2="1575.05" y1="256.6" y2="430.0" stroke="#26a69a" stroke-width="1.6" stroke-opacity="0.55"/>
<rect x="1571.65" y="264.1" width="6.8" height="158.4" fill="#26a69a"/>
<line x1="1586.98" x2="1586.98" y1="105.7" y2="271.6" stroke="#26a69a" stroke-width="1.6" stroke-opacity="0.55"/>
<rect x="1583.58" y="166.1" width="6.8" height="98.0" fill="#26a69a"/>
<line x1="1598.91" x2="1598.91" y1="166.1" y2="271.6" stroke="#ef5350" stroke-width="1.6" stroke-opacity="0.55"/>
<rect x="1595.51" y="166.1" width="6.8" height="37.7" fill="#ef5350"/>
<line x1="1610.84" x2="1610.84" y1="68.0" y2="264.1" stroke="#26a69a" stroke-width="1.6" stroke-opacity="0.55"/>
<rect x="1607.44" y="75.5" width="6.8" height="128.2" fill="#26a69a"/>
<line x1="1622.77" x2="1622.77" y1="75.5" y2="347.1" stroke="#ef5350" stroke-width="1.6" stroke-opacity="0.55"/>
<rect x="1619.37" y="75.5" width="6.8" height="203.6" fill="#ef5350"/>
<line x1="1634.70" x2="1634.70" y1="166.1" y2="294.3" stroke="#26a69a" stroke-width="1.6" stroke-opacity="0.55"/>
<rect x="1631.30" y="173.6" width="6.8" height="105.6" fill="#26a69a"/>
<line x1="1646.63" x2="1646.63" y1="120.8" y2="286.7" stroke="#ef5350" stroke-width="1.6" stroke-opacity="0.55"/>
<rect x="1643.23" y="166.1" width="6.8" height="83.0" fill="#ef5350"/>
<line x1="1658.56" x2="1658.56" y1="211.3" y2="301.8" stroke="#ef5350" stroke-width="1.6" stroke-opacity="0.55"/>
<rect x="1655.16" y="264.1" width="6.8" height="37.7" fill="#ef5350"/>
<line x1="1670.49" x2="1670.49" y1="128.3" y2="309.3" stroke="#26a69a" stroke-width="1.6" stroke-opacity="0.55"/>
<rect x="1667.09" y="151.0" width="6.8" height="158.4" fill="#26a69a"/>
<line x1="1682.42" x2="1682.42" y1="75.5" y2="226.4" stroke="#ef5350" stroke-width="1.6" stroke-opacity="0.55"/>
<rect x="1679.02" y="151.0" width="6.8" height="7.5" fill="#ef5350"/>
<line x1="1694.35" x2="1694.35" y1="151.0" y2="271.6" stroke="#ef5350" stroke-width="1.6" stroke-opacity="0.55"/>
<rect x="1690.95" y="158.5" width="6.8" height="113.1" fill="#ef5350"/>
<line x1="1706.28" x2="1706.28" y1="233.9" y2="309.3" stroke="#ef5350" stroke-width="1.6" stroke-opacity="0.55"/>
<rect x="1702.88" y="271.6" width="6.8" height="37.7" fill="#ef5350"/>
<line x1="1718.21" x2="1718.21" y1="309.3" y2="316.9" stroke="#26a69a" stroke-width="1.6" stroke-opacity="0.55"/>
<line x1="1714.81" x2="1721.61" y1="309.3" y2="309.3" stroke="#26a69a" stroke-width="1.5" stroke-opacity="0.6"/>
<line x1="609" x2="1751" y1="309.3" y2="309.3" stroke="#1fa396" stroke-width="1.8" stroke-dasharray="3.1 2.86" stroke-dashoffset="1.5"/>
<path d="M1711 1101L1717.8 1089L1724.6 1101Z" fill="#cccccc"/>
</g>
<rect x="608.3" y="45.3" width="1143.2" height="1055.8" fill="none" stroke="#c8c8c8" stroke-width="1.6"/>
<path d="M129.5 1126V44.5H607" fill="none" stroke="#cdcdcd" stroke-width="1.4"/>
<line x1="1751" x2="1754.5" y1="120.8" y2="120.8" stroke="#c4c4c4" stroke-width="1.2"/>
<text x="1756" y="126.2" class="ax">1.14160</text>
<line x1="1751" x2="1754.5" y1="196.2" y2="196.2" stroke="#c4c4c4" stroke-width="1.2"/>
<text x="1756" y="201.6" class="ax">1.14150</text>
<line x1="1751" x2="1754.5" y1="271.6" y2="271.6" stroke="#c4c4c4" stroke-width="1.2"/>
<text x="1756" y="277.0" class="ax">1.14140</text>
<line x1="1751" x2="1754.5" y1="347.1" y2="347.1" stroke="#c4c4c4" stroke-width="1.2"/>
<text x="1756" y="352.5" class="ax">1.14130</text>
<line x1="1751" x2="1754.5" y1="422.5" y2="422.5" stroke="#c4c4c4" stroke-width="1.2"/>
<text x="1756" y="427.9" class="ax">1.14120</text>
<line x1="1751" x2="1754.5" y1="497.9" y2="497.9" stroke="#c4c4c4" stroke-width="1.2"/>
<text x="1756" y="503.3" class="ax">1.14110</text>
<line x1="1751" x2="1754.5" y1="573.3" y2="573.3" stroke="#c4c4c4" stroke-width="1.2"/>
<text x="1756" y="578.7" class="ax">1.14100</text>
<line x1="1751" x2="1754.5" y1="648.7" y2="648.7" stroke="#c4c4c4" stroke-width="1.2"/>
<text x="1756" y="654.1" class="ax">1.14090</text>
<line x1="1751" x2="1754.5" y1="724.2" y2="724.2" stroke="#c4c4c4" stroke-width="1.2"/>
<text x="1756" y="729.6" class="ax">1.14080</text>
<line x1="1751" x2="1754.5" y1="799.6" y2="799.6" stroke="#c4c4c4" stroke-width="1.2"/>
<text x="1756" y="805.0" class="ax">1.14070</text>
<line x1="1751" x2="1754.5" y1="875.0" y2="875.0" stroke="#c4c4c4" stroke-width="1.2"/>
<text x="1756" y="880.4" class="ax">1.14060</text>
<line x1="1751" x2="1754.5" y1="950.4" y2="950.4" stroke="#c4c4c4" stroke-width="1.2"/>
<text x="1756" y="955.8" class="ax">1.14050</text>
<line x1="1751" x2="1754.5" y1="1025.8" y2="1025.8" stroke="#c4c4c4" stroke-width="1.2"/>
<text x="1756" y="1031.2" class="ax">1.14040</text>
<line x1="642.6" x2="642.6" y1="1101" y2="1104.5" stroke="#c4c4c4" stroke-width="1.2"/>
<text x="646.2" y="1118.6" class="tx">5 Jun 07:53</text>
<line x1="785.8" x2="785.8" y1="1101" y2="1104.5" stroke="#c4c4c4" stroke-width="1.2"/>
<text x="789.4" y="1118.6" class="tx">5 Jun 08:05</text>
<line x1="929.0" x2="929.0" y1="1101" y2="1104.5" stroke="#c4c4c4" stroke-width="1.2"/>
<text x="932.6" y="1118.6" class="tx">5 Jun 08:17</text>
<line x1="1072.2" x2="1072.2" y1="1101" y2="1104.5" stroke="#c4c4c4" stroke-width="1.2"/>
<text x="1075.8" y="1118.6" class="tx">5 Jun 08:29</text>
<line x1="1215.4" x2="1215.4" y1="1101" y2="1104.5" stroke="#c4c4c4" stroke-width="1.2"/>
<text x="1219.0" y="1118.6" class="tx">5 Jun 08:41</text>
<line x1="1358.6" x2="1358.6" y1="1101" y2="1104.5" stroke="#c4c4c4" stroke-width="1.2"/>
<text x="1362.2" y="1118.6" class="tx">5 Jun 08:53</text>
<line x1="1501.8" x2="1501.8" y1="1101" y2="1104.5" stroke="#c4c4c4" stroke-width="1.2"/>
<text x="1505.4" y="1118.6" class="tx">5 Jun 09:05</text>
<line x1="1645.0" x2="1645.0" y1="1101" y2="1104.5" stroke="#c4c4c4" stroke-width="1.2"/>
<text x="1648.6" y="1118.6" class="tx">5 Jun 09:17</text>
<rect x="1753" y="299" width="71.5" height="20.5" fill="#26a69a"/>
<text x="1756.3" y="314.8" class="ax" style="fill:#fff">1.14135</text>
<text x="1097.7" y="421.4" class="wv">(a)</text>
<text x="1241.1" y="791.7" class="wv">(b)</text>
<text x="1372.6" y="491.5" class="wv">(c)</text>
<!-- chart header icons -->
<g>
<path d="M1174.5 69H1185.2V90.2H1174.5A3.4 3.4 0 0 1 1171.1 86.8V72.4A3.4 3.4 0 0 1 1174.5 69Z" fill="#d95145"/>
<path d="M1186.9 69H1197.6A3.4 3.4 0 0 1 1201 72.4V86.8A3.4 3.4 0 0 1 1197.6 90.2H1186.9Z" fill="#3584ea"/>
<rect x="1178.8" y="75.1" width="15.1" height="8.8" rx="4.2" fill="#fff"/>
<rect x="1180.3" y="76.8" width="12" height="5.4" rx="2.7" fill="#b0bcc4"/>
<path d="M1257.2 67.1A14.9 12.4 0 0 0 1257.2 91.9V90.700A8.900 11.200 0 0 1 1257.2 68.3Z" fill="#d95145"/>
<path d="M1258.8 67.1A14.9 12.4 0 0 1 1258.8 91.9V90.700A8.900 11.200 0 0 0 1258.8 68.3Z" fill="#3584ea"/>
<path d="M1257.6 74.3V80.6L1262 84.4" fill="none" stroke="#b0bcc4" stroke-width="2.6"/>
</g>
<!-- left toolbar -->
<g fill="none" stroke="#787878" stroke-width="3" stroke-linecap="round">
<path d="M92.6 60.4V67.2M92.6 79.6V86.9M79.4 73.6H86.7M98.9 73.6H106.2"/>
<circle cx="92.6" cy="73.6" r="1.3" fill="#787878" stroke="none"/>
</g>
<g fill="#787878">
<rect x="85.3" y="120" width="2.9" height="26.6"/><rect x="82.1" y="128.8" width="9" height="13.2"/>
<rect x="97.1" y="120" width="2.9" height="23.4"/>
<rect x="95.5" y="125.4" width="6.2" height="12.2" fill="#fff" stroke="#787878" stroke-width="2.8"/>
</g>
<g fill="none" stroke="#605c5c" stroke-width="3" stroke-linecap="round">
<path d="M79.4 199.2V203M83.8 193.5V203M88.3 196.3V203M92.6 189.1V203M97.2 194.9V203M101.7 197.7V203"/>
<path d="M98.7 183.8H105M101.8 183.8V191.4"/>
</g>
<g fill="#fff" stroke="#636363" stroke-width="3" stroke-linecap="round">
<path d="M82.4 240.8V264.2M92.6 240.8V264.2M103.4 240.8V264.2"/>
<circle cx="82.4" cy="252.5" r="3.1"/><circle cx="92.6" cy="243.6" r="3.1"/><circle cx="103.4" cy="257" r="3.1"/>
</g>
<g fill="none" stroke="#787878" stroke-width="3" stroke-linecap="butt">
<path d="M101.6 301.6C94 299.5 93.4 305 92.6 311C91.6 319 91.5 325.5 84.2 323.4M87.6 310.7H99.6"/>
</g>
<g fill="none" stroke="#787878" stroke-width="3">
<path d="M92.8 371.7A7.6 7.6 0 1 1 101.6 371.7"/>
<path d="M97.2 369.8L106 385H88.4Z M97.2 375.5L101.7 381.9H92.7Z" fill="#787878" fill-rule="evenodd" stroke="none"/>
<path d="M86 369.2H81.8V380.6H88.8"/>
</g>
<g fill="none" stroke="#1a82f7" stroke-width="3.4">
<circle cx="93" cy="1014.8" r="13.2"/>
<path d="M102.2 1023.8L108.4 1029.8"/>
<path d="M83.9 1017.6L87.3 1014.2L92.6 1018.6L98.6 1009.4L102 1012.8" stroke-linejoin="miter" stroke-width="2.9"/>
</g>
<g>
<path d="M82.5 1073H102.5A3.5 3.5 0 0 1 106 1076.500V1085H79V1076.5A3.5 3.5 0 0 1 82.5 1073Z" fill="#3b84e8"/>
<path d="M79 1088H106V1096.3A3.5 3.5 0 0 1 102.500 1099.8H82.5A3.5 3.5 0 0 1 79 1096.3Z" fill="#d95145"/>
<circle cx="92.6" cy="1086.3" r="10.6" fill="#fff"/>
<path d="M92.6 1080.3V1092.300M86.6 1086.3H98.6" stroke="#b0bcc4" stroke-width="3.4" fill="none"/>
</g>
<!-- quotes header icons -->
<g fill="#6a6a6a">
<rect x="165.6" y="70.2" width="2.6" height="2.8"/><rect x="170.7" y="70.2" width="19.1" height="2.8"/>
<rect x="165.600" y="76" width="2.6" height="2.8"/><rect x="170.7" y="76" width="19.1" height="2.8"/>
<rect x="165.6" y="81.8" width="2.6" height="2.8"/><rect x="170.7" y="81.8" width="19.1" height="2.8"/>
<rect x="165.6" y="87.6" width="2.6" height="2.8"/><rect x="170.7" y="87.6" width="12.9" height="2.8"/>
</g>
<g fill="none" stroke="#686868" stroke-width="2.5" stroke-linejoin="round">
<path d="M563.4 73.3L551.4 85.3L549.6 92L556.3 90.2L568.5 78"/>
<path d="M554.2 83L558.6 87.4"/>
<path d="M568.6 68.200L574 73.6L571.400 76.2L566 70.800Z" fill="#686868" stroke-width="1.4"/>
</g>
<g fill="none" stroke="#8a8a8e" stroke-width="2.4" stroke-linecap="round">
<circle cx="181.600" cy="144.4" r="8.4"/><path d="M187.8 150.6L194.6 157.4"/>
</g>
<!-- tab icons -->
<g fill="none" stroke="#0a7aff" stroke-width="3.1" stroke-linecap="round" stroke-linejoin="round">
<path d="M551.6 1152.4V1167.600M545.2 1161.500L551.6 1167.9L558 1161.5"/>
<path d="M566.600 1161V1145.800M560.2 1152.2L566.600 1145.8L573 1152.2"/>
</g>
<g fill="#666">
<rect x="648.2" y="1143.2" width="2.9" height="26.6"/><rect x="645.5" y="1151.8" width="8.3" height="13.500"/>
<rect x="660.7" y="1143.2" width="2.9" height="23.6"/>
<rect x="659.6" y="1149" width="5.6" height="12" fill="#fff" stroke="#666" stroke-width="2.6"/>
</g>
<g fill="none" stroke="#666" stroke-width="3">
<rect x="739.5" y="1143.2" width="26.8" height="26.2" rx="2.5"/>
<path d="M743.5 1163L750 1156.4L756 1161.500L762.2 1150.4" stroke-width="2.8"/>
</g>
<g fill="none" stroke="#666" stroke-width="3">
<path d="M837.6 1156.300A12.800 12.800 0 1 1 841.3 1165.4"/>
<path d="M849.7 1149.3V1157L855.6 1162.2" stroke-width="2.8"/>
<path d="M832.6 1154.800H842.2L837.4 1159.600Z" fill="#666" stroke="none"/>
</g>
<g fill="none" stroke="#666" stroke-width="3" stroke-linejoin="round">
<rect x="933.8" y="1145" width="20.4" height="23" rx="1.500"/>
<path d="M954.2 1149.5H959.7V1168H952"/>
<path d="M938 1150.400H949.600M938 1156.400H949.600M938 1162.2H949.600" stroke-width="2.600"/>
</g>
<g fill="none" stroke="#666" stroke-width="3" stroke-linecap="round">
<circle cx="1043" cy="1156.600" r="5.600"/>
<path d="M1049.600 1150.400V1159.400C1049.600 1164.400 1056.800 1164.400 1056.800 1156.400A13.200 13.200 0 1 0 1049.800 1168"/>
</g>
<g fill="none" stroke="#666" stroke-width="3" stroke-linejoin="round">
<path d="M1130.900 1147.600H1150.100A2 2 0 0 1 1152.100 1149.600V1161.100A2 2 0 0 1 1150.100 1163.100H1149.600V1170.500L1138.300 1163.100H1130.900A2 2 0 0 1 1128.900 1161.100V1149.600A2 2 0 0 1 1130.900 1147.600Z"/>
</g>
<g fill="none" stroke="#666" stroke-width="3">
<circle cx="1237.400" cy="1156.600" r="13"/>
<circle cx="1237.400" cy="1152.400" r="4.200" stroke-width="2.800"/>
<path d="M1228 1165.500C1231 1160 1244 1160 1247 1165.500" stroke-width="2.800"/>
</g>
<g fill="none" stroke="#666" stroke-width="2.800" stroke-linejoin="round">
<path d="M1331.76 1147.43 L1331.98 1143.66 L1337.22 1143.66 L1337.44 1147.43 L1341.12 1149.56 L1344.49 1147.86 L1347.11 1152.40 L1343.96 1154.47 L1343.96 1158.73 L1347.11 1160.80 L1344.49 1165.34 L1341.12 1163.64 L1337.44 1165.77 L1337.22 1169.54 L1331.98 1169.54 L1331.76 1165.77 L1328.08 1163.64 L1324.71 1165.34 L1322.09 1160.80 L1325.24 1158.73 L1325.24 1154.47 L1322.09 1152.40 L1324.71 1147.86 L1328.08 1149.56Z"/>
<circle cx="1334.600" cy="1156.600" r="4.600"/>
</g>
</svg>
</div>
</body></html>
